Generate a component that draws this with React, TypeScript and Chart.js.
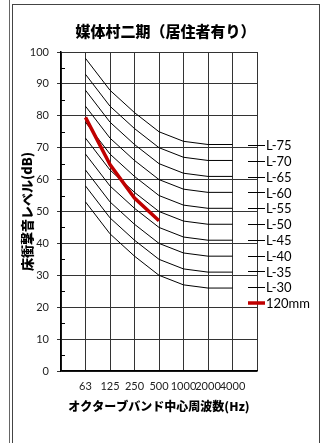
import React, { useEffect, useRef } from 'react';
import { Chart, registerables } from 'chart.js';

Chart.register(...registerables);

// ---- data ----
const freqLabels = ['63', '125', '250', '500', '1000', '2000', '4000'];
const seriesNames = ['L-75', 'L-70', 'L-65', 'L-60', 'L-55', 'L-50', 'L-45', 'L-40', 'L-35', 'L-30'];
const L75 = [98, 88, 81, 75, 72, 71, 71];
const L70 = [93, 83, 76, 70, 67, 66, 66];
const L65 = [88, 78, 71, 65, 62, 61, 61];
const L60 = [83, 73, 66, 60, 57, 56, 56];
const L55 = [78, 68, 61, 55, 52, 51, 51];
const L50 = [73, 63, 56, 50, 47, 46, 46];
const L45 = [68, 58, 51, 45, 42, 41, 41];
const L40 = [63, 53, 46, 40, 37, 36, 36];
const L35 = [58, 48, 41, 35, 32, 31, 31];
const L30 = [53, 43, 36, 30, 27, 26, 26];
const measuredName = '120mm';
const measured120 = [79.5, 64.7, 54.2, 47.1];
const minorTickValues = [5, 15, 25, 35, 45, 55, 65, 75, 85, 95];

const curves = [L75, L70, L65, L60, L55, L50, L45, L40, L35, L30];

const titleText = '媒体村二期（居住者有り）';
const yTitle = '床衝撃音レベル(dB)';
const xTitle = 'オクターブバンド中心周波数(Hz)';

const CJK = "'Noto Sans CJK JP', sans-serif";
const LATIN = "Lato, 'Noto Sans', sans-serif";

const minorTicksPlugin = {
  id: 'minorTicks',
  afterDatasetsDraw(chart: any) {
    const y = chart.scales.y;
    const ctx = chart.ctx;
    const left = chart.chartArea.left;
    ctx.save();
    ctx.strokeStyle = '#000';
    ctx.lineWidth = 1;
    for (const v of minorTickValues) {
      const py = Math.round(y.getPixelForValue(v)) + 0.5;
      ctx.beginPath();
      ctx.moveTo(left, py);
      ctx.lineTo(left + 4, py);
      ctx.stroke();
    }
    ctx.restore();
  },
};

const sideLegendPlugin = {
  id: 'sideLegend',
  afterDraw(chart: any) {
    const ctx = chart.ctx;
    const x0 = chart.chartArea.right - 9;
    const y0 = 140;
    const step = 15.8;
    ctx.save();
    ctx.font = `13px ${LATIN}`;
    ctx.textBaseline = 'middle';
    ctx.textAlign = 'left';
    chart.data.datasets.forEach((ds: any, i: number) => {
      const y = y0 + i * step;
      ctx.strokeStyle = ds.borderColor;
      ctx.lineWidth = ds.borderWidth;
      ctx.beginPath();
      ctx.moveTo(x0, Math.round(y) + (ds.borderWidth === 1 ? 0.5 : 0));
      ctx.lineTo(x0 + 17, Math.round(y) + (ds.borderWidth === 1 ? 0.5 : 0));
      ctx.stroke();
      ctx.fillStyle = '#000';
      ctx.fillText(ds.label, x0 + 18, y + 1);
    });
    ctx.restore();
  },
};

export default function App() {
  const ref = useRef<HTMLCanvasElement | null>(null);

  useEffect(() => {
    if (!ref.current) return;
    const datasets: any[] = curves.map((arr, i) => ({
      label: seriesNames[i],
      data: arr.map((v, j) => ({ x: j + 1, y: v })),
      borderColor: '#000',
      backgroundColor: '#000',
      borderWidth: 1,
      pointRadius: 0,
      tension: 0,
      xAxisID: 'x',
      yAxisID: 'y',
    }));
    datasets.push({
      label: measuredName,
      data: measured120.map((v, j) => ({ x: j + 1, y: v })),
      borderColor: '#C00000',
      backgroundColor: '#C00000',
      borderWidth: 3.5,
      pointRadius: 0,
      tension: 0,
      order: -1,
      xAxisID: 'x',
      yAxisID: 'y',
    });

    const chart = new Chart(ref.current, {
      type: 'line',
      data: { datasets },
      plugins: [minorTicksPlugin, sideLegendPlugin],
      options: {
        animation: false,
        responsive: false,
        maintainAspectRatio: false,
        layout: { padding: 0 },
        plugins: {
          legend: { display: false },
          tooltip: { enabled: false },
          title: {
            display: true,
            text: titleText,
            color: '#000',
            font: { family: CJK, size: 15, weight: '900' },
            padding: { top: 17, bottom: 12 },
          },
        },
        scales: {
          x: {
            type: 'linear',
            min: 0,
            max: 8,
            afterBuildTicks: (s: any) => {
              s.ticks = [0, 1, 2, 3, 4, 5, 6, 7, 8].map((v) => ({ value: v }));
            },
            afterFit: (s: any) => {
              s.height = 72;
            },
            ticks: {
              autoSkip: false,
              maxRotation: 0,
              minRotation: 0,
              padding: 9,
              color: '#222',
              font: { family: LATIN, size: 11 },
              callback: (v: any) => freqLabels[Number(v) - 1] ?? '',
            },
            grid: { color: '#333', drawTicks: false, lineWidth: 1 },
            border: { color: '#000', width: 1.5 },
            title: {
              display: true,
              text: xTitle,
              color: '#000',
              font: { family: CJK, size: 12, weight: '900' },
              padding: { top: 0, bottom: 29.8 },
            },
          },
          y: {
            type: 'linear',
            position: 'left',
            min: 0,
            max: 100,
            afterFit: (s: any) => {
              s.width = 48;
            },
            ticks: {
              stepSize: 10,
              padding: 8,
              color: '#222',
              font: { family: LATIN, size: 11 },
            },
            grid: { color: '#333', tickLength: 4, lineWidth: 1 },
            border: { color: '#000', width: 1.5 },
            title: {
              display: true,
              text: yTitle,
              color: '#000',
              font: { family: CJK, size: 13, weight: '900' },
              padding: { top: 6, bottom: 0 },
            },
          },
          y2: {
            type: 'linear',
            position: 'right',
            display: true,
            min: 0,
            max: 100,
            afterFit: (s: any) => {
              s.width = 61;
            },
            ticks: { display: false },
            grid: { drawOnChartArea: false, drawTicks: false },
            border: { display: false },
          },
        },
      } as any,
    });
    return () => chart.destroy();
  }, []);

  return (
    <div style={{ position: 'absolute', left: 0, top: 0, width: 324, height: 443, overflow: 'hidden', background: '#fff' }}>
      <div style={{ position: 'absolute', left: 9, top: 0, width: 1, height: 443, background: '#666' }} />
      <div
        style={{
          position: 'absolute',
          left: 12,
          top: 4,
          width: 308,
          height: 450,
          boxSizing: 'border-box',
          borderLeft: '1px solid #444',
          borderTop: '1px solid #444',
          borderRight: '1px solid #444',
        }}
      />
      <canvas
        ref={ref}
        width={305}
        height={438}
        style={{ position: 'absolute', left: 13, top: 5, width: 305, height: 438 }}
      />
    </div>
  );
}
